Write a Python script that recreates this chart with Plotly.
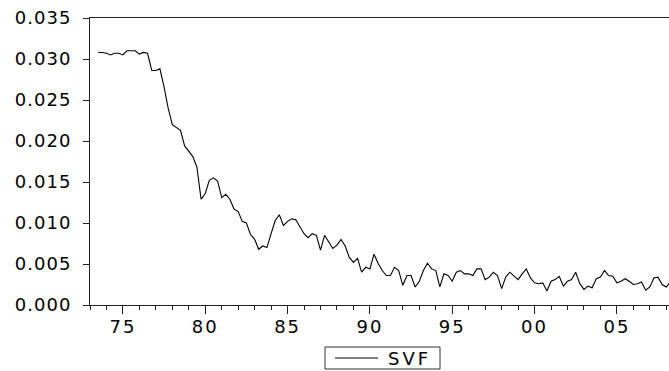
import plotly.graph_objects as go
import pandas as pd

# Quarterly observations, 1973Q3 .. 2008Q2
start_quarter = "1973-07-01"
svf = [
    0.0308, 0.0308, 0.0307, 0.0305, 0.0307, 0.0307, 0.0305, 0.0310, 0.0310, 0.0310,
    0.0306, 0.0308, 0.0307, 0.0286, 0.0286, 0.0288, 0.0266, 0.0240, 0.0220, 0.0217,
    0.0213, 0.0194, 0.0188, 0.0181, 0.0168, 0.0129, 0.0136, 0.0152, 0.0155, 0.0151,
    0.0131, 0.0135, 0.0129, 0.0117, 0.0114, 0.0102, 0.0100, 0.0086, 0.0080, 0.0068,
    0.0072, 0.0070, 0.0087, 0.0103, 0.0110, 0.0097, 0.0102, 0.0105, 0.0104, 0.0096,
    0.0087, 0.0082, 0.0087, 0.0085, 0.0067, 0.0085, 0.0077, 0.0069, 0.0073, 0.0080,
    0.0072, 0.0058, 0.0052, 0.0057, 0.0040, 0.0046, 0.0044, 0.0062, 0.0051, 0.0042,
    0.0036, 0.0036, 0.0046, 0.0042, 0.0024, 0.0036, 0.0036, 0.0022, 0.0029, 0.0042,
    0.0051, 0.0044, 0.0042, 0.0022, 0.0038, 0.0036, 0.0029, 0.0040, 0.0042, 0.0038,
    0.0038, 0.0036, 0.0044, 0.0044, 0.0031, 0.0034, 0.0040, 0.0036, 0.0020, 0.0034,
    0.0040, 0.0036, 0.0031, 0.0038, 0.0044, 0.0033, 0.0027, 0.0026, 0.0027, 0.0017,
    0.0029, 0.0031, 0.0035, 0.0023, 0.0029, 0.0031, 0.0040, 0.0026, 0.0019, 0.0023,
    0.0021, 0.0032, 0.0034, 0.0042, 0.0036, 0.0035, 0.0027, 0.0029, 0.0032, 0.0029,
    0.0025, 0.0026, 0.0028, 0.0018, 0.0022, 0.0033, 0.0034, 0.0025, 0.0022, 0.0028,
]
series_name = "SVF"
dates = pd.date_range(start_quarter, periods=len(svf), freq="QS")

x_tick_years = [1975, 1980, 1985, 1990, 1995, 2000, 2005]
x_tick_labels = ["75", "80", "85", "90", "95", "00", "05"]
minor_years = list(range(1973, 2009))
y_ticks = [0.000, 0.005, 0.010, 0.015, 0.020, 0.025, 0.030, 0.035]
y_tick_labels = ["0.000", "0.005", "0.010", "0.015", "0.020", "0.025", "0.030", "0.035"]

FONT = "DejaVu Sans"
AX = "#222222"


def wide(s, sp):
    return f'<span style="letter-spacing:{sp}px">{s}</span>'


# plot area geometry (pixels) used to place the legend box
W, H = 669, 371
ML, MR, MT, MB = 90, 0, 18, 66
PW, PH = W - ML - MR, H - MT - MB


def px_x(p):
    return (p - ML) / PW


def px_y(p):
    return (H - MB - p) / PH


fig = go.Figure()
fig.add_trace(go.Scatter(x=dates, y=svf, mode="lines", name=series_name,
                         line=dict(color="black", width=1.1), showlegend=False))

# legend box (EViews-style)
fig.add_shape(type="rect", xref="paper", yref="paper",
              x0=px_x(325), x1=px_x(440), y0=px_y(369), y1=px_y(347),
              line=dict(color="#333333", width=1), fillcolor="white")
fig.add_shape(type="line", xref="paper", yref="paper",
              x0=px_x(335), x1=px_x(378), y0=px_y(358), y1=px_y(358),
              line=dict(color="black", width=1))
fig.add_annotation(xref="paper", yref="paper", x=px_x(386), y=px_y(358.5),
                   xanchor="left", yanchor="middle", showarrow=False,
                   text=wide(series_name, 3), font=dict(family=FONT, size=18, color="black"))

fig.update_layout(
    width=W, height=H,
    margin=dict(l=ML, r=MR, t=MT, b=MB, autoexpand=False),
    paper_bgcolor="white", plot_bgcolor="white",
    font=dict(family=FONT, size=18, color="black"),
    showlegend=False,
)
fig.update_xaxes(
    type="date",
    range=["1973-01-01", "2008-03-01"],
    tickmode="array",
    tickvals=[f"{y}-01-01" for y in x_tick_years],
    ticktext=[wide(t, 2) for t in x_tick_labels],
    ticks="outside", ticklen=8, tickwidth=1, tickcolor=AX,
    minor=dict(tickmode="array", tickvals=[f"{y}-01-01" for y in minor_years],
               ticks="outside", ticklen=4, tickwidth=1, tickcolor=AX, showgrid=False),
    showline=True, linecolor=AX, linewidth=1, mirror=True,
    showgrid=False, zeroline=False,
    tickfont=dict(family=FONT, size=18),
    ticklabelstandoff=-3,
)
fig.update_yaxes(
    range=[0, 0.035],
    tickmode="array", tickvals=y_ticks,
    ticktext=[wide(t, 1) for t in y_tick_labels],
    ticks="outside", ticklen=6, tickwidth=1, tickcolor=AX,
    showline=True, linecolor=AX, linewidth=1,
    showgrid=False, zeroline=False,
    tickfont=dict(family=FONT, size=18),
    ticklabelstandoff=8,
)

fig.write_html("out.html")
